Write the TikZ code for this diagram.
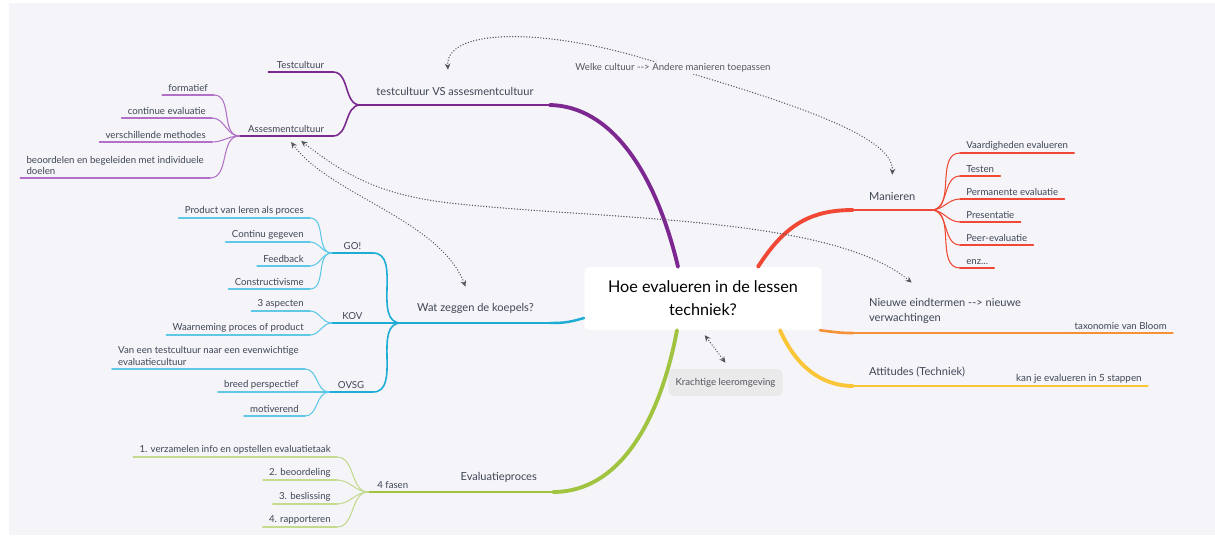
\documentclass[tikz,border=0pt]{standalone}
\usepackage{fontspec}
\setmainfont{Lato}
\usetikzlibrary{arrows.meta,calc}
\definecolor{achter}{RGB}{244,244,249}
\definecolor{tekst}{RGB}{64,70,86}
\definecolor{paars}{RGB}{125,40,145}
\definecolor{paarslicht}{RGB}{178,112,200}
\definecolor{rood}{RGB}{240,72,52}
\definecolor{oranje}{RGB}{245,145,55}
\definecolor{geel}{RGB}{250,198,55}
\definecolor{blauw}{RGB}{28,172,212}
\definecolor{blauwlicht}{RGB}{95,200,230}
\definecolor{groen}{RGB}{160,196,64}
\definecolor{groenlicht}{RGB}{196,218,140}
\definecolor{grijs}{RGB}{85,85,95}
\definecolor{grijsvak}{RGB}{234,234,234}
\begin{document}
\begin{tikzpicture}[x=0.02cm, y=-0.02cm, line join=round, line cap=round,
  font=\fontsize{5.5pt}{6.8pt}\selectfont, text=tekst, >={Stealth[length=3.5pt,width=3.2pt]},
  titel/.style={fill=white, rounded corners=2.5pt, minimum width=135pt, minimum height=35.7pt, align=center, font=\fontsize{9.2pt}{13pt}\selectfont, text=black},
  topic/.style={inner xsep=9pt, inner ysep=5pt, font=\fontsize{6.3pt}{8.5pt}\selectfont},
  sub/.style={inner xsep=4.8pt, inner ysep=1.5pt, minimum width=23pt},
  leaf/.style={inner xsep=3.4pt, inner ysep=1.5pt, align=left},
  ul/.style={append after command={(\tikzlastnode.south west) edge[#1] (\tikzlastnode.south east)}},
  losse/.style={fill=grijsvak, rounded corners=2.5pt, minimum width=65pt, minimum height=15.3pt, text=grijs},
  rel/.style={draw=grijs, line width=0.75pt, dash pattern=on 0.1pt off 1.5pt, <->},
  dik/.style={line width=2.2pt}, mid/.style={line width=0.9pt}, dun/.style={line width=0.6pt}]
% Achtergrond
\useasboundingbox (0,0) rectangle (1215,539);
\fill[white] (0,0) rectangle (1215,539);
\fill[achter] (9,3) rectangle (1215,535);
% Onderwerpen
\node[titel] (hoe) at (703,298.5) {Hoe evalueren in de lessen\\techniek?};
\node[topic, anchor=south, ul={paars,mid}] (tva) at (455,105) {testcultuur VS assesmentcultuur};
\node[topic, anchor=south west, ul={rood,mid}] (man) at (853,210) {Manieren};
\node[topic, anchor=south west, align=left, ul={oranje,mid}] (nie) at (853,333) {Nieuwe eindtermen -{}-> nieuwe\\verwachtingen};
\node[topic, anchor=south west, ul={geel,mid}] (att) at (853,386) {Attitudes (Techniek)};
\node[topic, anchor=south east, ul={blauw,mid}] (koe) at (550,323) {Wat zeggen de koepels?};
\node[topic, anchor=south east, ul={groen,mid}] (evp) at (553,492) {Evaluatieproces};
\node[losse] (kr) at (725.5,382.5) {Krachtige leeromgeving};
% Subonderwerpen
\node[sub, anchor=south east, ul={paars,dun}] (tc) at (333,72) {Testcultuur};
\node[sub, anchor=south east, ul={paars,dun}] (asm) at (333,136) {Assesmentcultuur};
\node[sub, anchor=south east, ul={blauw,dun}] (go) at (373,253) {GO!};
\node[sub, anchor=south east, ul={blauw,dun}] (kov) at (373,323) {KOV};
\node[sub, anchor=south east, ul={blauw,dun}] (ovsg) at (373,392) {OVSG};
\node[sub, anchor=south east, ul={groen,dun}] (fas) at (417,492) {4 fasen};
\node[leaf, anchor=south east, ul={oranje,dun}] (tax) at (1173,333) {taxonomie van Bloom};
\node[leaf, anchor=south east, ul={geel,dun}, font=\fontsize{5.6pt}{7pt}\selectfont] (kan) at (1148,386) {kan je evalueren in 5 stappen};
% Bladeren
\node[leaf, anchor=south east, ul={paarslicht,dun}] (fo) at (214,95) {formatief};
\node[leaf, anchor=south east, ul={paarslicht,dun}] (ce) at (212,118) {continue evaluatie};
\node[leaf, anchor=south east, ul={paarslicht,dun}] (vm) at (212,142) {verschillende methodes};
\node[leaf, anchor=south east, ul={paarslicht,dun}] (bb) at (210,178) {beoordelen en begeleiden met individuele\\doelen};
\node[leaf, anchor=south west, ul={rood,dun}] (va) at (960,153) {Vaardigheden evalueren};
\node[leaf, anchor=south west, ul={rood,dun}] (te) at (960,176) {Testen};
\node[leaf, anchor=south west, ul={rood,dun}] (pe) at (960,199) {Permanente evaluatie};
\node[leaf, anchor=south west, ul={rood,dun}] (pr) at (960,222) {Presentatie};
\node[leaf, anchor=south west, ul={rood,dun}] (pee) at (960,245) {Peer-evaluatie};
\node[leaf, anchor=south west, ul={rood,dun}] (enz) at (960,268) {enz...};
\node[leaf, anchor=south east, ul={blauwlicht,dun}] (pv) at (310,218) {Product van leren als proces};
\node[leaf, anchor=south east, ul={blauwlicht,dun}] (cg) at (310,242) {Continu gegeven};
\node[leaf, anchor=south east, ul={blauwlicht,dun}] (fb) at (310,266) {Feedback};
\node[leaf, anchor=south east, ul={blauwlicht,dun}] (co) at (310,289) {Constructivisme};
\node[leaf, anchor=south east, ul={blauwlicht,dun}] (a3) at (310,311) {3 aspecten};
\node[leaf, anchor=south east, ul={blauwlicht,dun}] (wpp) at (310,335) {Waarneming proces of product};
\node[leaf, anchor=south east, ul={blauwlicht,dun}] (vte) at (305,369) {Van een testcultuur naar een evenwichtige\\evaluatiecultuur};
\node[leaf, anchor=south east, ul={blauwlicht,dun}] (bp) at (305,392) {breed perspectief};
\node[leaf, anchor=south east, ul={blauwlicht,dun}] (mo) at (305,416) {motiverend};
\node[leaf, anchor=south east, ul={groenlicht,dun}] (f1) at (337,457) {1. verzamelen info en opstellen evaluatietaak};
\node[leaf, anchor=south east, ul={groenlicht,dun}] (f2) at (337,480) {2. beoordeling};
\node[leaf, anchor=south east, ul={groenlicht,dun}] (f3) at (337,504) {3. beslissing};
\node[leaf, anchor=south east, ul={groenlicht,dun}] (f4) at (337,527) {4. rapporteren};
% Takken
\draw[paars,dik] (hoe.north -| 678,0) .. controls (655,170) and (610,106) .. (tva.south east);
\draw[rood,dik] (hoe.north -| 758,0) .. controls (785,225) and (810,210) .. (man.south west);
\draw[oranje,line width=1.5pt] (hoe.south -| 820,0) .. controls (840,333) and (845,333) .. (nie.south west);
\draw[geel,dik] (hoe.south -| 780,0) .. controls (800,375) and (830,386) .. (att.south west);
\draw[blauw,line width=1.4pt] (hoe.west |- 0,318) .. controls (570,322) and (565,323) .. (koe.south east);
\draw[groen,dik] (hoe.south -| 677,0) .. controls (660,420) and (620,492) .. (evp.south east);
\foreach \k in {tc,asm} \draw[paars,mid] (tva.south west) to[out=180,in=0] (\k.south east);
\foreach \k in {fo,ce,vm,bb} \draw[paarslicht,dun] (asm.south west) to[out=180,in=0] (\k.south east);
\foreach \k in {va,te,pe,pr,pee,enz} \draw[rood,dun] (man.south east) to[out=0,in=180] (\k.south west);
\foreach \k in {go,kov,ovsg} \draw[blauw,mid] (koe.south west) to[out=180,in=0] (\k.south east);
\foreach \k in {pv,cg,fb,co} \draw[blauwlicht,dun] (go.south west) to[out=180,in=0] (\k.south east);
\foreach \k in {a3,wpp} \draw[blauwlicht,dun] (kov.south west) to[out=180,in=0] (\k.south east);
\foreach \k in {vte,bp,mo} \draw[blauwlicht,dun] (ovsg.south west) to[out=180,in=0] (\k.south east);
\foreach \k in {f1,f2,f3,f4} \draw[groenlicht,dun] (fas.south west) to[out=180,in=0] (\k.south east);
\draw[groen,mid] (evp.south west) -- (fas.south east);
\draw[oranje,mid] (nie.south east) -- (tax.south west);
\draw[geel,mid] (att.south east) -- (kan.south west);
% Relaties
\draw[rel] ([xshift=-4pt,yshift=5pt]tva.north) .. controls (445,25) and (560,28) .. (673,68)
  node[fill=achter, inner sep=1pt, text=grijs] (wel) {Welke cultuur -{}-> Andere manieren toepassen}
  .. controls (780,100) and (895,135) .. ([yshift=5pt]man.north);
\draw[rel] ([xshift=2.8pt,yshift=-3.4pt]asm.south) .. controls (330,195) and (440,220) .. ([xshift=-5.7pt,yshift=4.5pt]koe.north);
\draw[rel] ([xshift=8.5pt,yshift=-2.8pt]asm.south) .. controls (345,175) and (380,195) .. (450,203)
  .. controls (600,220) and (830,215) .. ([xshift=-19pt,yshift=4pt]nie.north);
\draw[rel] ([xshift=1pt,yshift=-2.8pt]hoe.south) -- ([yshift=3.4pt]kr.north);
\end{tikzpicture}
\end{document}
